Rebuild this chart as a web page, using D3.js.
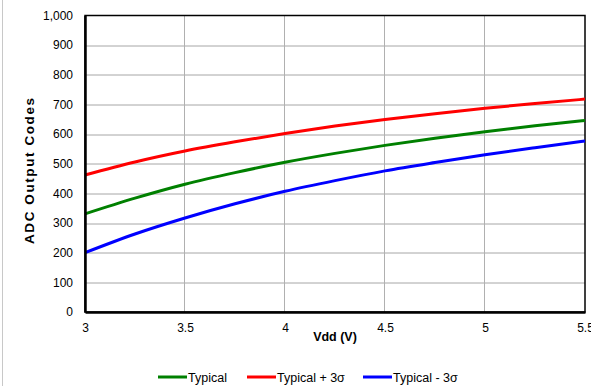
<!DOCTYPE html>
<html>
<head>
<meta charset="utf-8">
<script src="https://cdn.jsdelivr.net/npm/d3@7"></script>
<style>
  body { margin: 0; background: #fff; }
  svg { display: block; font-family: "Liberation Sans", Arial, sans-serif; }
</style>
</head>
<body>
<svg id="chart" width="591" height="386"></svg>
<script>
/* global d3: false */

// Vdd sweep (V) and the three curves
const vdd = [3, 3.25, 3.5, 3.75, 4, 4.25, 4.5, 4.75, 5, 5.25, 5.5];
const typical = [331, 384, 431, 470, 505, 535, 562, 586, 608, 628, 646];
const typicalPlus = [462, 506, 543, 574, 602, 627, 649, 669, 687, 703, 718];
const typicalMinus = [200, 263, 317, 365, 407, 443, 476, 504, 530, 554, 577];

const seriesNames = ['Typical', 'Typical + 3σ', 'Typical - 3σ'];
const seriesColors = ['#008000', '#ff0000', '#0000ff'];
const seriesValues = [typical, typicalPlus, typicalMinus];

const xTicks = [3, 3.5, 4, 4.5, 5, 5.5];
const yTicks = [0, 100, 200, 300, 400, 500, 600, 700, 800, 900, 1000];

const svg = d3.select('#chart');
const margin = { top: 15.5, left: 85, right: 6, bottom: 74 };
const width = 591 - margin.left - margin.right;
const height = 386 - margin.top - margin.bottom;

// faint frame line on the left edge
svg.append('line')
  .attr('x1', 2.5).attr('x2', 2.5)
  .attr('y1', 0).attr('y2', 386)
  .attr('stroke', '#c8c8c8');

const g = svg.append('g')
  .attr('transform', `translate(${margin.left},${margin.top})`);

const x = d3.scaleLinear().domain([3, 5.5]).range([0, width]);
const y = d3.scaleLinear().domain([0, 1000]).range([height, 0]);

// grid
g.append('g')
  .selectAll('line')
  .data(yTicks.slice(1, -1))
  .enter()
  .append('line')
  .attr('x1', 0).attr('x2', width)
  .attr('y1', d => Math.round(y(d)) + 0.5)
  .attr('y2', d => Math.round(y(d)) + 0.5)
  .attr('stroke', '#a6a6a6');

g.append('g')
  .selectAll('line')
  .data(xTicks.slice(1, -1))
  .enter()
  .append('line')
  .attr('y1', 0).attr('y2', height)
  .attr('x1', d => Math.round(x(d)) - 0.5)
  .attr('x2', d => Math.round(x(d)) - 0.5)
  .attr('stroke', '#b0b0b0');

// plot border
g.append('rect')
  .attr('width', width).attr('height', height)
  .attr('fill', 'none')
  .attr('stroke', '#000')
  .attr('stroke-width', 1.5);

// curves
const line = d3.line()
  .x((d, i) => x(vdd[i]))
  .y(d => y(d))
  .curve(d3.curveMonotoneX);

g.append('g')
  .selectAll('path')
  .data(seriesValues)
  .enter()
  .append('path')
  .attr('d', line)
  .attr('fill', 'none')
  .attr('stroke', (d, i) => seriesColors[i])
  .attr('stroke-width', 3);

// axes
const yAxis = g.append('g')
  .call(d3.axisLeft(y).tickValues(yTicks).tickFormat(d3.format(',')).tickSize(0).tickPadding(12));
const xAxis = g.append('g')
  .attr('transform', `translate(0,${height})`)
  .call(d3.axisBottom(x).tickValues(xTicks).tickFormat(d3.format('~g')).tickSize(0).tickPadding(11));

[yAxis, xAxis].forEach((a) => {
  a.select('.domain')
    .attr('stroke', '#000')
    .attr('stroke-width', 2.5);
  a.selectAll('text')
    .attr('font-size', 12)
    .attr('font-family', '"Liberation Sans", Arial, sans-serif')
    .attr('fill', '#000');
});

// axis titles
svg.append('text')
  .attr('x', margin.left + width / 2)
  .attr('y', 341)
  .attr('text-anchor', 'middle')
  .attr('font-size', 12.5)
  .attr('font-weight', 'bold')
  .text('Vdd (V)');

svg.append('text')
  .attr('transform', 'translate(34,171) rotate(-90)')
  .attr('text-anchor', 'middle')
  .attr('font-size', 13.5)
  .attr('font-weight', 'bold')
  .attr('textLength', 146)
  .attr('lengthAdjust', 'spacing')
  .text('ADC Output Codes');

// legend
const legendX = [158, 247, 363];
const legend = svg.append('g')
  .selectAll('g')
  .data(seriesNames)
  .enter()
  .append('g')
  .attr('transform', (d, i) => `translate(${legendX[i]},377)`);

legend.append('line')
  .attr('x1', 0).attr('x2', 29)
  .attr('stroke', (d, i) => seriesColors[i])
  .attr('stroke-width', 3);

legend.append('text')
  .attr('x', 30)
  .attr('y', 4.5)
  .attr('font-size', 12.5)
  .text(d => d);
</script>
</body>
</html>
